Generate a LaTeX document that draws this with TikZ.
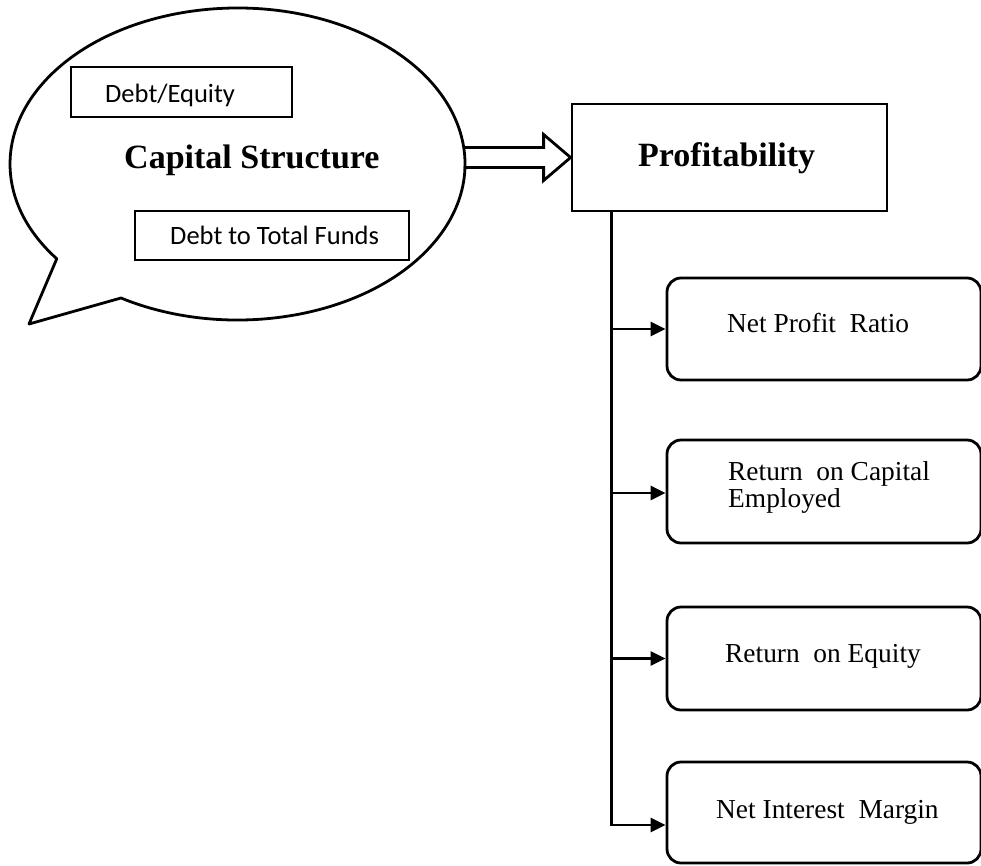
\documentclass[tikz,border=0pt]{standalone}
\usepackage{fontspec}
\setmainfont{Liberation Serif}
\newfontfamily\calib{Carlito}
\usetikzlibrary{arrows.meta,calc}
\begin{document}
\begin{tikzpicture}[x=1pt,y=-1pt,
  sqbox/.style={draw,line width=2.8pt,rectangle,inner sep=0pt},
  rbox/.style={draw,line width=2.8pt,rectangle,rounded corners=14pt,inner sep=0pt,minimum width=314pt},
  lbl/.style={anchor=base west,inner sep=0pt,font=\fontsize{27.4}{27.4}\selectfont},
  sml/.style={anchor=base west,inner sep=0pt,font=\calib\fontsize{26.5}{26.5}\selectfont},
  big/.style={anchor=base west,inner sep=0pt,font=\bfseries\fontsize{34}{34}\selectfont},
  conn/.style={line width=2.8pt,-{Triangle[length=15pt,width=14pt]}},
  outl/.style={line width=2.8pt,line join=miter},
]
\useasboundingbox (0,0) rectangle (981,865);

% speech bubble
\coordinate (bc) at (237.5,164);
\draw[outl,line join=round] ($(bc)+(142.6:227.5 and 156)$) -- (29,324) coordinate (tail)
  -- ($(bc)+(120.8:227.5 and 156)$)
  arc[start angle=120.8, end angle=-217.4, x radius=227.5, y radius=156] -- cycle;

\node[sqbox,minimum width=221pt,minimum height=50pt] (de) at (181.5,92) {};
\node[sml] (det) at (105,102) {Debt/Equity};
\node[sqbox,minimum width=274pt,minimum height=49pt] (dt) at (272,235.5) {};
\node[sml] (dtt) at (170,244) {Debt to Total Funds};
\node[big] (cs) at (124,168) {Capital Structure};

% profitability
\node[sqbox,minimum width=315pt,minimum height=107pt] (prof) at (729.5,157.5) {};
\node[big] (proft) at (638,166) {Profitability};

% hollow arrow
\draw[outl] ($(prof.west)+(-107,-10)$) -- ($(prof.west)+(-27,-10)$) -- ($(prof.west)+(-27,-23)$)
  -- (prof.west) -- ($(prof.west)+(-27,23)$) -- ($(prof.west)+(-27,10)$) -- ($(prof.west)+(-107,10)$);

% ratio boxes
\node[rbox,minimum height=102pt] (b1) at (824,329) {};
\node[rbox,minimum height=103pt] (b2) at (824,491.5) {};
\node[rbox,minimum height=103pt] (b3) at (824,658.5) {};
\node[rbox,minimum height=101pt] (b4) at (824,812.5) {};

\node[lbl] (t1) at (727,332) {Net Profit\ \ Ratio};
\node[lbl] (t2a) at (728,480) {Return\ \ on Capital};
\node[lbl] (t2b) at (728,507) {Employed};
\node[lbl] (t3) at (725,662) {Return\ \ on Equity};
\node[lbl] (t4) at (716,818) {Net Interest\ \ Margin};

% connectors
\coordinate (tr) at ($(prof.south west)+(41,0)$);
\coordinate (j4) at ($(b4.west)+(0,12.5)$);
\draw[conn] (tr) |- (j4);
\draw[conn] (tr |- b1.west) -- (b1.west);
\draw[conn] ($(tr |- b2.west)+(0,1.5)$) -- ($(b2.west)+(0,1.5)$);
\draw[conn] (tr |- b3.west) -- (b3.west);
\end{tikzpicture}
\end{document}
